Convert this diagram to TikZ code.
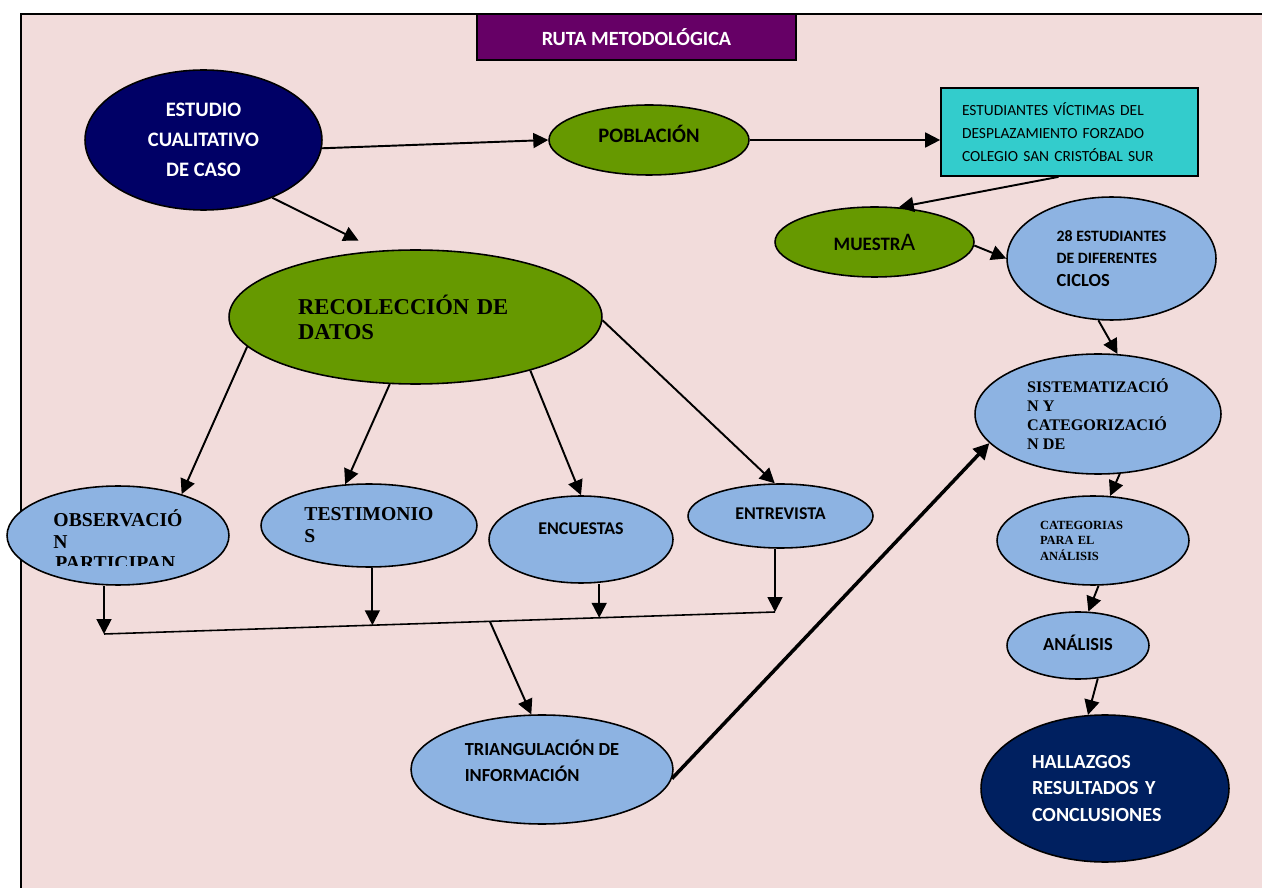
\documentclass[tikz,border=0pt]{standalone}
\usepackage{fontspec}
\setmainfont{Carlito}
\newfontfamily\timesfont{Liberation Serif}
\usetikzlibrary{positioning,shapes.geometric,arrows.meta,calc}
\definecolor{fondo}{HTML}{F2DCDB}
\definecolor{morado}{HTML}{660066}
\definecolor{azuloscuro}{HTML}{000066}
\definecolor{verde}{HTML}{669900}
\definecolor{turquesa}{HTML}{33CCCC}
\definecolor{celeste}{HTML}{8DB3E2}
\definecolor{marino}{HTML}{002060}

\begin{document}
\begin{tikzpicture}[x=0.02cm, y=-0.02cm,
    elipse/.style={ellipse, draw, line width=0.9pt, inner sep=0pt},
    flecha/.style={line width=1.1pt, -{Triangle[length=8.5pt, width=8.5pt]}},
    linea/.style={line width=0.9pt}]
    % fondo y marco
    \useasboundingbox (0,0) rectangle (1262,888);
    \fill[fondo] (21,14) rectangle (1262,888);
    \draw[line width=1pt] (21,888) -- (21,14) -- (1262,14);

    % definisci i nodi
    \node (titulo) [rectangle, draw, line width=1pt, fill=morado, text=white, minimum width=6.38cm, minimum height=0.92cm, font=\bfseries\fontsize{11.5}{14}\selectfont] at (636.5,37) {RUTA METODOLÓGICA};
    \node (estudio) [elipse, fill=azuloscuro, text=white, minimum width=4.74cm, minimum height=2.8cm, align=center, font=\bfseries\fontsize{11.7}{17}\selectfont] at (203.5,140) {ESTUDIO\\CUALITATIVO\\DE CASO};
    \node (poblacion) [elipse, fill=verde, minimum width=4cm, minimum height=1.4cm, text depth=7pt, font=\bfseries\fontsize{11.7}{14}\selectfont] at (649,140) {POBLACIÓN};
    \node (cuadro) [rectangle, draw, line width=1pt, fill=turquesa, minimum width=5.14cm, minimum height=1.76cm, inner sep=0pt, text width=4.3cm, align=left, font=\fontsize{8.8}{13}\selectfont] at (1069.5,132) {ESTUDIANTES VÍCTIMAS DEL\\DESPLAZAMIENTO FORZADO\\COLEGIO SAN CRISTÓBAL SUR};
    \node (muestra) [elipse, fill=verde, minimum width=3.98cm, minimum height=1.4cm] at (874.5,242) {{\bfseries\fontsize{10.8}{13}\selectfont MUESTR}{\fontsize{14.4}{16}\selectfont A}};
    \node (est28) [elipse, fill=celeste, minimum width=4.18cm, minimum height=2.46cm, align=left, font=\bfseries\fontsize{9}{12.8}\selectfont] at (1111.5,258.5) {28 ESTUDIANTES\\DE DIFERENTES\\{\fontsize{10.5}{12.8}\selectfont CICLOS}};
    \node (sist) [elipse, fill=celeste, minimum width=4.92cm, minimum height=2.4cm, align=left, font=\timesfont\bfseries\fontsize{9.2}{10.8}\selectfont] at (1098,414) {SISTEMATIZACIÓ\\N Y\\CATEGORIZACIÓ\\N DE};
    \node (cat) [elipse, fill=celeste, minimum width=3.84cm, minimum height=1.78cm, text width=2.12cm, align=left, font=\timesfont\bfseries\fontsize{7.1}{8.8}\selectfont] at (1093,540.5) {CATEGORIAS\\PARA EL\\ANÁLISIS};
    \node (analisis) [elipse, fill=celeste, minimum width=2.84cm, minimum height=1.34cm, text depth=3pt, font=\bfseries\fontsize{10.5}{13}\selectfont] at (1078,645.5) {ANÁLISIS};
    \node (hallazgos) [elipse, fill=marino, text=white, minimum width=4.96cm, minimum height=2.94cm, text width=2.92cm, align=left, font=\bfseries\fontsize{11.4}{15}\selectfont] at (1105,788.5) {HALLAZGOS\\RESULTADOS Y\\CONCLUSIONES};
    \node (reco) [elipse, fill=verde, minimum width=7.46cm, minimum height=2.68cm, text width=4.7cm, align=left, font=\timesfont\bfseries\fontsize{12.9}{14.2}\selectfont] at (415.5,317) {RECOLECCIÓN DE\\DATOS};
    \node (obs) [elipse, fill=celeste, minimum width=4.44cm, minimum height=1.98cm, align=left, text depth=7pt, font=\timesfont\bfseries\fontsize{11.2}{12.5}\selectfont] at (118,535.5) {OBSERVACIÓ\\N};
    \begin{scope}
      \clip (40,557) rectangle (220,566);
      \node (obspart) [anchor=base west, inner sep=0pt, font=\timesfont\bfseries\fontsize{11.2}{12.5}\selectfont] at (55,570) {PARTICIPAN};
    \end{scope}
    \node (test) [elipse, fill=celeste, minimum width=4.32cm, minimum height=1.66cm, align=left, font=\timesfont\bfseries\fontsize{11.2}{12.5}\selectfont] at (369,525.5) {TESTIMONIO\\S};
    \node (enc) [elipse, fill=celeste, minimum width=3.68cm, minimum height=1.74cm, text depth=12.6pt, font=\bfseries\fontsize{10.2}{13}\selectfont] at (581,539.5) {ENCUESTAS};
    \node (ent) [elipse, fill=celeste, minimum width=3.7cm, minimum height=1.28cm, text depth=3pt, font=\bfseries\fontsize{10.2}{13}\selectfont] at (780.5,516) {ENTREVISTA};
    \node (tri) [elipse, fill=celeste, minimum width=5.24cm, minimum height=2.18cm, align=left, text depth=10pt, font=\bfseries\fontsize{10.5}{14.4}\selectfont] at (542,769.5) {TRIANGULACIÓN DE\\INFORMACIÓN};

    % punti di raccolta
    \coordinate (jo) at (104,634);
    \coordinate (je) at (775,612);
    \coordinate (jt) at ($(jo)!0.4!(je)$);
    \coordinate (jc) at ($(jo)!0.738!(je)$);
    \coordinate (jtri) at ($(jo)!0.575!(je)$);

    % definisci i collegamenti
    \draw[flecha] (estudio.-4) -- (poblacion.west);
    \draw[flecha] (poblacion.east) -- (poblacion.east -| cuadro.west);
    \draw[flecha] ([xshift=-0.22cm]cuadro.south) -- (muestra.55);
    \draw[flecha] (muestra.-2) -- (est28.west);
    \draw[flecha] (est28.258) -- (sist.72);
    \draw[flecha] (sist.-70) -- (cat.69);
    \draw[flecha] (cat.-83) -- (analisis.73);
    \draw[flecha] (analisis.-59) -- (hallazgos.103);
    \draw[flecha, shorten >=0.45cm] (estudio.-40) -- (reco.119);
    \draw[flecha] (reco.-170) -- (obs.33);
    \draw[flecha] (reco.-111) -- (test.120);
    \draw[flecha] (reco.-25) -- (enc.north);
    \draw[flecha] (reco.-1) -- (ent.100);
    \draw[linea] (jo) -- (je);
    \draw[flecha] (obs.south -| jo) -- (jo);
    \draw[flecha] (test.south -| jt) -- (jt);
    \draw[flecha] (enc.south -| jc) -- (jc);
    \draw[flecha] (ent.south -| je) -- (je);
    \draw[flecha] (jtri) -- (tri.101);
    \draw[line width=2pt, -{Triangle[length=9pt, width=9pt]}] (tri.-4) -- (sist.-165);
\end{tikzpicture}
\end{document}
